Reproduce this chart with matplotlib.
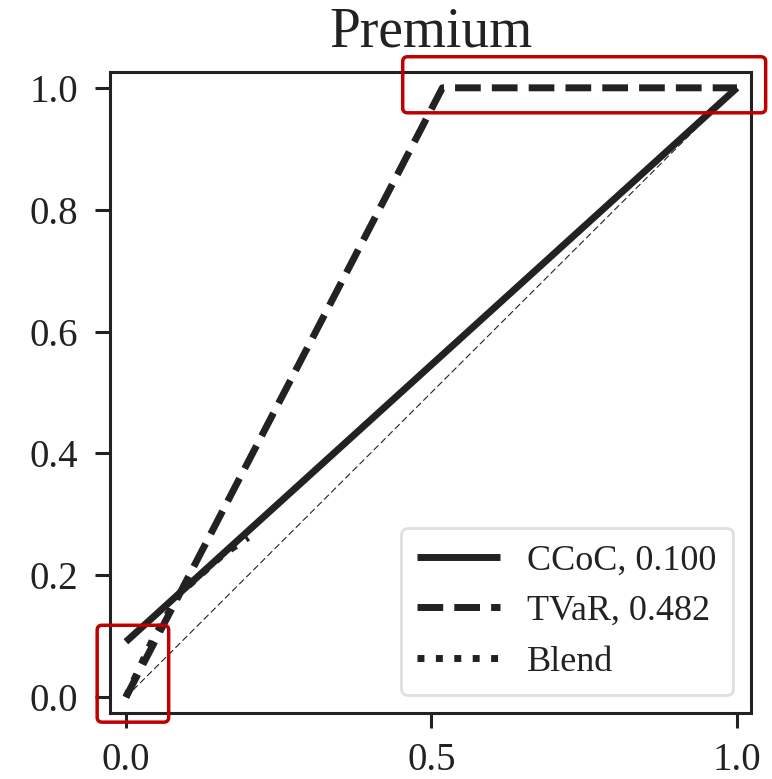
import matplotlib
matplotlib.use("Agg")
import matplotlib.pyplot as plt
from matplotlib.patches import FancyBboxPatch
import numpy as np

# distortion curves
ccoc_label = "CCoC, 0.100"
ccoc_x = [0.0, 1.0]
ccoc_y = [0.0909, 1.0]

tvar_label = "TVaR, 0.482"
tvar_x = [0.0, 0.518, 1.0]
tvar_y = [0.0, 1.0, 1.0]

blend_label = "Blend"
blend_x = [0.0, 0.044, 0.088, 0.16, 0.2]
blend_y = [0.0, 0.095, 0.17, 0.235, 0.262]

diag_x = [0.0, 1.0]
diag_y = [0.0, 1.0]

# highlight boxes (data coords): x0, y0, x1, y1
boxes = [(-0.047, -0.041, 0.070, 0.118), (0.453, 0.959, 1.047, 1.051)]

ink = "#222222"
plt.rcParams["font.family"] = ["Liberation Serif", "DejaVu Serif"]
plt.rcParams["font.size"] = 26

fig = plt.figure(figsize=(7.72, 7.79), dpi=100)
ax = fig.add_axes([0.1425, 0.0847, 0.8303, 0.8229])

ax.plot(diag_x, diag_y, color=ink, lw=0.8, ls=(0, (6, 3)))
ax.plot(ccoc_x, ccoc_y, color=ink, lw=5, label=ccoc_label, solid_capstyle="butt")
ax.plot(tvar_x, tvar_y, color=ink, lw=5, ls="--", label=tvar_label)
ax.plot(blend_x, blend_y, color=ink, lw=5, ls=":", label=blend_label)

ax.set_xlim(-0.026, 1.023)
ax.set_ylim(-0.026, 1.026)
ax.set_xticks([0.0, 0.5, 1.0])
ax.set_yticks([0.0, 0.2, 0.4, 0.6, 0.8, 1.0])
ax.tick_params(length=11, width=2.2, color=ink, labelcolor=ink, labelsize=28)
ax.tick_params(axis="y", pad=12)
ax.tick_params(axis="x", pad=10)
for s in ax.spines.values():
    s.set_linewidth(2.2)
    s.set_color(ink)

ax.set_title("Premium", fontsize=40, color=ink, pad=18)

leg = ax.legend(loc="lower right", fontsize=26, handlelength=2.3, borderpad=0.45,
                labelspacing=0.48, handletextpad=0.75, borderaxespad=0.5, frameon=True)
leg.get_frame().set_edgecolor("#d8d8d8")
leg.get_frame().set_linewidth(2)
for t in leg.get_texts():
    t.set_color(ink)

for (x0, y0, x1, y1) in boxes:
    ax.add_patch(FancyBboxPatch((x0, y0), x1 - x0, y1 - y0,
                                boxstyle="round,pad=0,rounding_size=0.008",
                                fill=False, edgecolor="#c00000", lw=2.5,
                                clip_on=False, zorder=5))

fig.savefig("out.png", dpi=100)
